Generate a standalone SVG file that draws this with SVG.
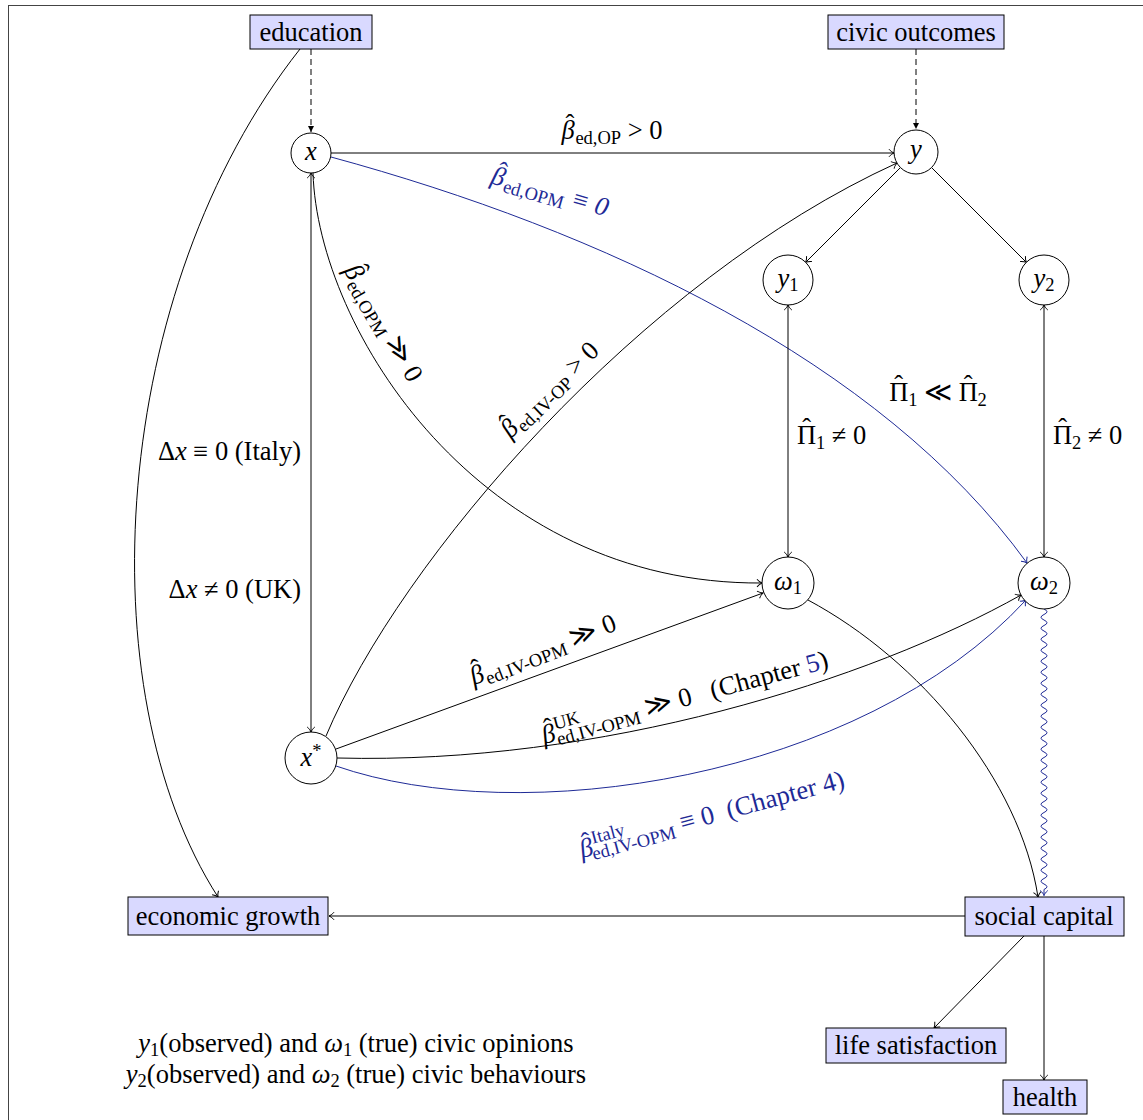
<svg xmlns="http://www.w3.org/2000/svg" width="1143" height="1120" viewBox="0 0 1143 1120">
<style>
.t{font-family:"Liberation Serif","Times New Roman",serif;font-size:26.5px;fill:#000}
.i{font-style:italic}
.s{font-size:18.5px}
.b{fill:#1e2a96}
.e{fill:none;stroke:#000;stroke-width:1}
.eb{fill:none;stroke:#1e2a96;stroke-width:1}
.box{fill:#d9d9ff;stroke:#000;stroke-width:1}
.c{fill:#fff;stroke:#000;stroke-width:1}
</style>
<defs>
<marker id="a" viewBox="-7 -6 9 12" markerWidth="9" markerHeight="12" refX="0" refY="0" orient="auto-start-reverse" markerUnits="userSpaceOnUse">
<path d="M-5,-3.8 C-3.2,-1.6 -1.2,-0.5 0,0 C-1.2,0.5 -3.2,1.6 -5,3.8" fill="none" stroke="#000" stroke-width="1"/>
</marker>
<marker id="ab" viewBox="-7 -6 9 12" markerWidth="9" markerHeight="12" refX="0" refY="0" orient="auto" markerUnits="userSpaceOnUse">
<path d="M-5,-3.8 C-3.2,-1.6 -1.2,-0.5 0,0 C-1.2,0.5 -3.2,1.6 -5,3.8" fill="none" stroke="#1e2a96" stroke-width="1"/>
</marker>
<marker id="f" viewBox="-7 -5 8 10" markerWidth="8" markerHeight="10" refX="0" refY="0" orient="auto" markerUnits="userSpaceOnUse">
<path d="M-6,-3 L0,0 L-6,3 Z" fill="#000"/>
</marker>
</defs>
<rect x="8.5" y="5.5" width="1140" height="1120" fill="#fff" stroke="#444" stroke-width="1"/>

<g id="connectors">
<line class="e" x1="311" y1="49" x2="311" y2="132" stroke-dasharray="6,4" marker-end="url(#f)"/>
<line class="e" x1="916" y1="49" x2="916" y2="129" stroke-dasharray="6,4" marker-end="url(#f)"/>
<path class="e" d="M300,49 C110,290 85,690 218,897" marker-end="url(#a)"/>
<line class="e" x1="331" y1="153" x2="894" y2="153" marker-end="url(#a)"/>
<path class="eb" d="M331,157 C600,230 880,360 1027,563" marker-end="url(#ab)"/>
<line class="e" x1="311" y1="173" x2="311" y2="732" marker-start="url(#a)" marker-end="url(#a)"/>
<path class="e" d="M313,173 C318,330 480,585 762,583" marker-end="url(#a)"/>
<path class="e" d="M326,736 C400,560 640,280 897,163" marker-end="url(#a)"/>
<line class="e" x1="336" y1="749" x2="763" y2="593" marker-end="url(#a)"/>
<path class="e" d="M337,758 C600,765 870,680 1021,595" marker-end="url(#a)"/>
<path class="eb" d="M336,766 C520,830 860,780 1026,600" marker-end="url(#ab)"/>
<line class="e" x1="900.4" y1="167.6" x2="805.7" y2="262.3" marker-end="url(#a)"/>
<line class="e" x1="931.6" y1="167.6" x2="1026.3" y2="262.3" marker-end="url(#a)"/>
<line class="e" x1="788" y1="305" x2="788" y2="557" marker-start="url(#a)" marker-end="url(#a)"/>
<line class="e" x1="1044" y1="305" x2="1044" y2="557" marker-start="url(#a)" marker-end="url(#a)"/>
<path class="e" d="M808,600 C920,660 1020,780 1038,897" marker-end="url(#a)"/>
<path class="eb" d="M1044,609 q6,2.75 0,5.5 t0,5.5 t0,5.5 t0,5.5 t0,5.5 t0,5.5 t0,5.5 t0,5.5 t0,5.5 t0,5.5 t0,5.5 t0,5.5 t0,5.5 t0,5.5 t0,5.5 t0,5.5 t0,5.5 t0,5.5 t0,5.5 t0,5.5 t0,5.5 t0,5.5 t0,5.5 t0,5.5 t0,5.5 t0,5.5 t0,5.5 t0,5.5 t0,5.5 t0,5.5 t0,5.5 t0,5.5 t0,5.5 t0,5.5 t0,5.5 t0,5.5 t0,5.5 t0,5.5 t0,5.5 t0,5.5 t0,5.5 t0,5.5 t0,5.5 t0,5.5 t0,5.5 t0,5.5 t0,5.5 t0,5.5 t0,5.5 t0,5.5 t0,5.5 l0,6" marker-end="url(#ab)"/>
<line class="e" x1="965" y1="916" x2="329" y2="916" marker-end="url(#a)"/>
<line class="e" x1="1024" y1="936" x2="934" y2="1028" marker-end="url(#a)"/>
<line class="e" x1="1044" y1="936" x2="1044" y2="1080" marker-end="url(#a)"/>

<text class="t" x="612" y="139" text-anchor="middle"><tspan class="i">β</tspan><tspan dx="-9" dy="-6">ˆ</tspan><tspan class="s" dx="1" dy="11">ed,OP</tspan><tspan dy="-5"> &gt; 0</tspan></text>
<g transform="translate(550,192) rotate(16)"><text class="t b" x="0" y="8" text-anchor="middle"><tspan class="i">β</tspan><tspan dx="-9" dy="-6">ˆ</tspan><tspan class="s" dx="1" dy="11">ed,OPM</tspan><tspan dy="-5" class="i"> ≡ 0</tspan></text></g>
<g transform="translate(383,323) rotate(60)"><text class="t" x="0" y="8" text-anchor="middle"><tspan class="i">β</tspan><tspan dx="-9" dy="-6">ˆ</tspan><tspan class="s" dx="1" dy="11">ed,OPM</tspan><tspan dy="-5"> ≫ 0</tspan></text></g>
<g transform="translate(550,390) rotate(-44)"><text class="t" x="0" y="8" text-anchor="middle"><tspan class="i">β</tspan><tspan dx="-9" dy="-6">ˆ</tspan><tspan class="s" dx="1" dy="11">ed,IV-OP</tspan><tspan dy="-5"> &gt; 0</tspan></text></g>
<text class="t" x="301" y="460" text-anchor="end">Δ<tspan class="i">x</tspan> ≡ 0 (Italy)</text>
<text class="t" x="301" y="598" text-anchor="end">Δ<tspan class="i">x</tspan> ≠ 0 (UK)</text>
<g transform="translate(543,650) rotate(-21)"><text class="t" x="0" y="8" text-anchor="middle"><tspan class="i">β</tspan><tspan dx="-9" dy="-6">ˆ</tspan><tspan class="s" dx="1" dy="11">ed,IV-OPM</tspan><tspan dy="-5"> ≫ 0</tspan></text></g>
<g transform="translate(685,698) rotate(-15)"><text class="t" x="0" y="8" text-anchor="middle" xml:space="preserve"><tspan class="i">β</tspan><tspan dx="-9" dy="-6">ˆ</tspan><tspan class="s" dx="1" dy="-5">UK</tspan><tspan class="s" dx="-27" dy="16">ed,IV-OPM</tspan><tspan dy="-5"> ≫ 0   (Chapter </tspan><tspan class="b">5</tspan>)</text></g>
<g transform="translate(712,815) rotate(-15)"><text class="t b" x="0" y="8" text-anchor="middle" xml:space="preserve"><tspan class="i">β</tspan><tspan dx="-9" dy="-6">ˆ</tspan><tspan class="s" dx="1" dy="-5">Italy</tspan><tspan class="s" dx="-37" dy="16">ed,IV-OPM</tspan><tspan dy="-5"> ≡ 0  (Chapter 4)</tspan></text></g>
<text class="t" x="797" y="444">Π<tspan dx="-14" dy="-7">ˆ</tspan><tspan class="s" dx="5" dy="12">1</tspan><tspan dy="-5"> ≠ 0</tspan></text>
<text class="t" x="1053" y="444">Π<tspan dx="-14" dy="-7">ˆ</tspan><tspan class="s" dx="5" dy="12">2</tspan><tspan dy="-5"> ≠ 0</tspan></text>
<text class="t" x="938" y="401" text-anchor="middle">Π<tspan dx="-14" dy="-7">ˆ</tspan><tspan class="s" dx="5" dy="12">1</tspan><tspan dy="-5"> ≪ Π</tspan><tspan dx="-14" dy="-7">ˆ</tspan><tspan class="s" dx="5" dy="12">2</tspan></text>
</g>

<g id="education"><rect class="box" x="250" y="15" width="122" height="34"/><text class="t" x="311" y="41" text-anchor="middle">education</text></g>
<g id="civic-outcomes"><rect class="box" x="828" y="15" width="176" height="34"/><text class="t" x="916" y="41" text-anchor="middle">civic outcomes</text></g>
<g id="x"><circle class="c" cx="311" cy="153" r="20"/><text class="t i" x="311" y="160" text-anchor="middle">x</text></g>
<g id="y"><circle class="c" cx="916" cy="152" r="22"/><text class="t i" x="916" y="158" text-anchor="middle">y</text></g>
<g id="y1"><circle class="c" cx="788" cy="280" r="25"/><text class="t" x="788" y="287" text-anchor="middle"><tspan class="i">y</tspan><tspan class="s" dy="4">1</tspan></text></g>
<g id="y2"><circle class="c" cx="1044" cy="280" r="25"/><text class="t" x="1044" y="287" text-anchor="middle"><tspan class="i">y</tspan><tspan class="s" dy="4">2</tspan></text></g>
<g id="omega1"><circle class="c" cx="788" cy="583" r="26"/><text class="t" x="788" y="590" text-anchor="middle"><tspan class="i">ω</tspan><tspan class="s" dy="4">1</tspan></text></g>
<g id="omega2"><circle class="c" cx="1044" cy="583" r="26"/><text class="t" x="1044" y="590" text-anchor="middle"><tspan class="i">ω</tspan><tspan class="s" dy="4">2</tspan></text></g>
<g id="xstar"><circle class="c" cx="311" cy="758" r="26"/><text class="t" x="311" y="766" text-anchor="middle"><tspan class="i">x</tspan><tspan class="s" dy="-9">*</tspan></text></g>
<g id="economic-growth"><rect class="box" x="128" y="897" width="200" height="38"/><text class="t" x="228" y="925" text-anchor="middle">economic growth</text></g>
<g id="social-capital"><rect class="box" x="965" y="897" width="159" height="39"/><text class="t" x="1044" y="925" text-anchor="middle">social capital</text></g>
<g id="life-satisfaction"><rect class="box" x="826" y="1028" width="180" height="35"/><text class="t" x="916" y="1054" text-anchor="middle">life satisfaction</text></g>
<g id="health"><rect class="box" x="1003" y="1080" width="84" height="34"/><text class="t" x="1045" y="1106" text-anchor="middle">health</text></g>
<g id="note">
<text class="t" x="356" y="1052" text-anchor="middle"><tspan class="i">y</tspan><tspan class="s" dy="4">1</tspan><tspan dy="-4">(observed) and </tspan><tspan class="i">ω</tspan><tspan class="s" dy="4">1</tspan><tspan dy="-4"> (true) civic opinions</tspan></text>
<text class="t" x="356" y="1083" text-anchor="middle"><tspan class="i">y</tspan><tspan class="s" dy="4">2</tspan><tspan dy="-4">(observed) and </tspan><tspan class="i">ω</tspan><tspan class="s" dy="4">2</tspan><tspan dy="-4"> (true) civic behaviours</tspan></text>
</g>
</svg>
